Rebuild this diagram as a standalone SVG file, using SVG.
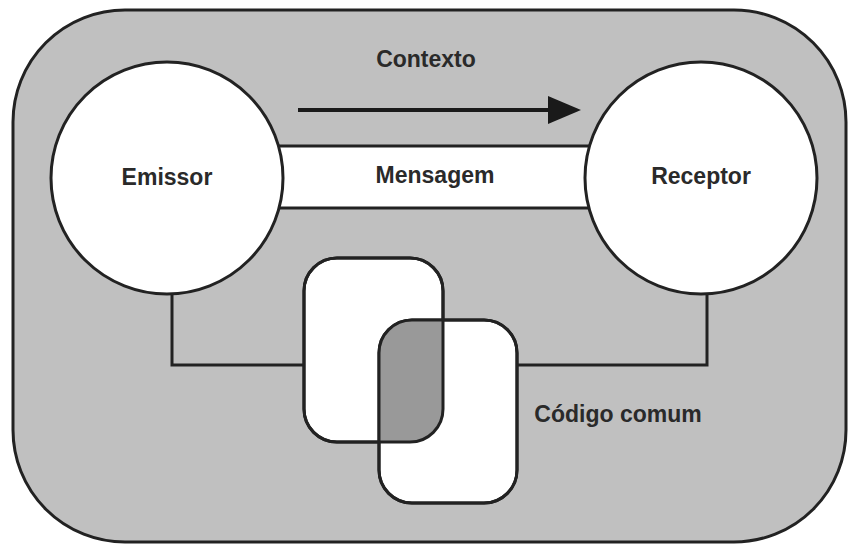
<svg xmlns="http://www.w3.org/2000/svg" width="848" height="544" viewBox="0 0 848 544">
<defs>
<style>
.lbl{font-family:"Liberation Sans",Arial,sans-serif;font-weight:bold;font-size:23px;fill:#2a2a2a;text-anchor:middle}
.ln{fill:none;stroke:#222;stroke-width:3}
.wh{fill:#fff;stroke:#222;stroke-width:3}
</style>
<marker id="ah" viewBox="0 0 10 10" refX="10" refY="5" markerWidth="8" markerHeight="7" markerUnits="userSpaceOnUse" orient="auto">
<path d="M0,0 L10,5 L0,10 z" fill="#1a1a1a"/>
</marker>
<clipPath id="c1"><rect x="304" y="258" width="139" height="184" rx="33"/></clipPath>
</defs>
<rect id="bg" x="13" y="10" width="833" height="532" rx="112" fill="#c0c0c0" stroke="#222" stroke-width="3"/>
<g id="connectors">
<polyline class="ln" points="172,290 172,365 304,365"/>
<polyline class="ln" points="707,290 707,365 517,365"/>
<line x1="298" y1="110" x2="550" y2="110" stroke="#1a1a1a" stroke-width="4"/>
<path d="M548,96 L581,110 L548,124 z" fill="#1a1a1a"/>
</g>
<g id="mensagem">
<rect x="260" y="146" width="350" height="62" fill="#fff"/>
<line class="ln" x1="260" y1="146" x2="610" y2="146"/>
<line class="ln" x1="260" y1="208" x2="610" y2="208"/>
<text class="lbl" x="435" y="183">Mensagem</text>
</g>
<g id="emissor">
<circle class="wh" cx="167" cy="178" r="116"/>
<text class="lbl" x="167" y="185">Emissor</text>
</g>
<g id="receptor">
<circle class="wh" cx="701" cy="178" r="116"/>
<text class="lbl" x="701" y="184">Receptor</text>
</g>
<g id="contexto">
<text class="lbl" x="426" y="67">Contexto</text>
</g>
<g id="codigo">
<rect class="wh" x="304" y="258" width="139" height="184" rx="33"/>
<rect class="wh" x="379" y="320" width="138" height="183" rx="33"/>
<rect x="379" y="320" width="138" height="183" rx="33" fill="#999" clip-path="url(#c1)"/>
<rect x="304" y="258" width="139" height="184" rx="33" fill="none" stroke="#222" stroke-width="3"/>
<rect x="379" y="320" width="138" height="183" rx="33" fill="none" stroke="#222" stroke-width="3"/>
<text class="lbl" x="618" y="422">Código comum</text>
</g>
</svg>
